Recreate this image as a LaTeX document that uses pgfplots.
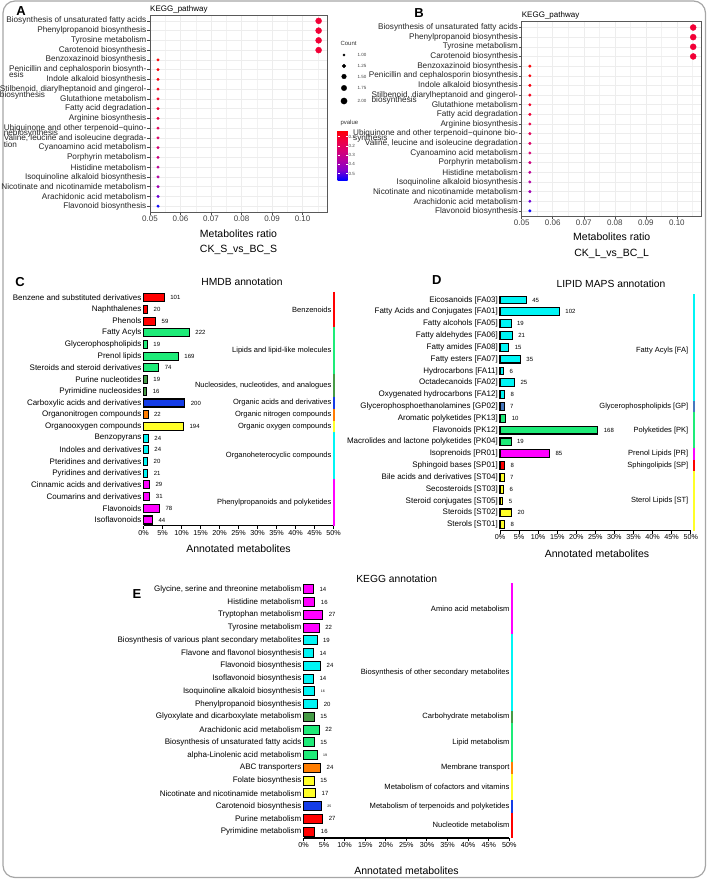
\documentclass[border=0pt]{standalone}
\usepackage{pgfplots}
\pgfplotsset{compat=1.18}
\usepackage{fontspec}
\setmainfont{Liberation Sans}

\definecolor{cred}{RGB}{255,0,0}
\definecolor{cgreen}{RGB}{30,235,120}
\definecolor{cdkgreen}{RGB}{70,155,70}
\definecolor{cblue}{RGB}{20,60,230}
\definecolor{corange}{RGB}{255,125,0}
\definecolor{cyellow}{RGB}{255,255,40}
\definecolor{ccyan}{RGB}{0,245,245}
\definecolor{cmag}{RGB}{255,0,255}
\definecolor{csteel}{RGB}{70,120,190}

\newcommand{\fs}[1]{\fontsize{#1}{#1}\selectfont}
\newcommand{\twoline}[3]{\rlap{\raisebox{#3}[0pt][0pt]{#2}}#1}

\pgfplotsset{
  colormap={rb}{rgb255=(255,0,0) rgb255=(240,0,65) rgb255=(215,0,115) rgb255=(180,0,160) rgb255=(130,0,205) rgb255=(0,0,255)},
  bubble/.style={scale only axis, anchor=north west,
    xmin=0.05, xmax=0.108, ymin=-0.6, ymax=19.6, y dir=reverse,
    xtick={0.05,0.06,0.07,0.08,0.09,0.10}, xticklabels={0.05,0.06,0.07,0.08,0.09,0.10},
    minor xtick={0.055,0.065,0.075,0.085,0.095,0.105},
    ytick={0,...,19},
    grid=both, major grid style={gray!14, line width=0.5pt}, minor grid style={gray!10, line width=0.35pt},
    axis line style={gray!70!black, line width=0.6pt},
    tick pos=left, tick align=outside, major tick length=2.5pt, minor tick length=0pt,
    tick style={gray!60!black, line width=0.5pt},
    xticklabel style={font=\fs{8}, text=black!75, inner sep=1pt},
    yticklabel style={font=\fs{8.2}, text=black!85, inner sep=1pt},
    colormap name=rb, point meta min=0.03, point meta max=0.57},
  bdot/.style={scatter, only marks, mark=*, point meta=explicit, scatter/use mapped color={draw=mapped color, fill=mapped color}},
  barax/.style={scale only axis, anchor=north west, xmin=0, xmax=50, ymin=-0.5, ymax=19.5,
    y dir=reverse, clip=false, axis lines*=left,
    y axis line style={draw=none}, x axis line style={line width=1.3pt, black},
    xtick={0,5,...,50}, xticklabels={0\%,5\%,10\%,15\%,20\%,25\%,30\%,35\%,40\%,45\%,50\%},
    ytick={0,...,19}, tick align=outside, major tick length=3pt,
    xtick style={line width=1pt, black}, ytick style={draw=none},
    xticklabel style={font=\fs{7.2}, inner sep=1pt},
    yticklabel style={font=\fs{8}, inner sep=1pt, xshift=2pt}},
  hbar/.style={xbar, bar shift=0pt, draw=black, line width=1.1pt, nodes near coords,
    point meta=explicit symbolic,
    nodes near coords style={font=\fs{6}, inner sep=0pt, xshift=5.5pt, anchor=west, text=black}},
  grpline/.style={no marks, line width=2.2pt, forget plot},
}

\begin{document}
\begin{tikzpicture}
\draw[gray!70, line width=1.2pt, rounded corners=12pt] (3pt,-1pt) rectangle (705.5pt,-877.5pt);

% ---------------- Panel A ----------------
\begin{axis}[bubble, at={(150pt,-15pt)}, width=177pt, height=197pt,
  yticklabels={Biosynthesis of unsaturated fatty acids, Phenylpropanoid biosynthesis, Tyrosine metabolism, Carotenoid biosynthesis, Benzoxazinoid biosynthesis,
   {\twoline{Penicillin and cephalosporin biosynth-}{esis}{-6pt}}, Indole alkaloid biosynthesis,
   {\twoline{Stilbenoid, diarylheptanoid and gingerol-}{biosynthesis}{-6pt}}, Glutathione metabolism, Fatty acid degradation, Arginine biosynthesis,
   {\twoline{Ubiquinone and other terpenoid−quino-}{nebiosynthesis}{-5.5pt}},
   {\twoline{Valine, leucine and isoleucine degrada-}{tion}{-7pt}},
   Cyanoamino acid metabolism, Porphyrin metabolism, Histidine metabolism, Isoquinoline alkaloid biosynthesis, Nicotinate and nicotinamide metabolism, Arachidonic acid metabolism, Flavonoid biosynthesis},
  colorbar, colorbar style={at={(parent axis.north east)}, anchor=north west, xshift=2pt, yshift=-115pt,
    width=10pt, height=50pt, y dir=reverse, ytick={0.1,0.2,0.3,0.4,0.5}, yticklabels={0.1,0.2,0.3,0.4,0.5},
    yticklabel style={font=\fs{4.5}, text=black!75, inner sep=1pt}, axis line style={draw=none},
    major tick length=2pt, tick style={white, line width=0.4pt}, grid=none}]
\addplot[bdot, mark size=3pt] table[x=r, y=y, meta=p, row sep=\\] {y r p\\ 0 0.10526 0.12\\ 1 0.10526 0.12\\ 2 0.10526 0.12\\ 3 0.10526 0.12\\};
\addplot[bdot, mark size=1.3pt] table[x=r, y=y, meta=p, row sep=\\] {y r p\\
 4 0.05263 0.035\\ 5 0.05263 0.045\\ 6 0.05263 0.055\\ 7 0.05263 0.075\\ 8 0.05263 0.095\\ 9 0.05263 0.12\\
 10 0.05263 0.15\\ 11 0.05263 0.19\\ 12 0.05263 0.22\\ 13 0.05263 0.25\\ 14 0.05263 0.28\\ 15 0.05263 0.33\\
 16 0.05263 0.36\\ 17 0.05263 0.40\\ 18 0.05263 0.48\\ 19 0.05263 0.56\\};
\end{axis}

% Count legend
\begin{axis}[at={(339pt,-50pt)}, anchor=north west, scale only axis, width=10pt, height=56pt, hide axis,
  xmin=-1, xmax=1, ymin=50, ymax=106, y dir=reverse, clip=false]
\addplot[only marks, mark=*, black, mark size=1.2pt] coordinates {(0,55)};
\addplot[only marks, mark=*, black, mark size=1.9pt] coordinates {(0,66)};
\addplot[only marks, mark=*, black, mark size=2.3pt] coordinates {(0,76.5)};
\addplot[only marks, mark=*, black, mark size=2.7pt] coordinates {(0,88)};
\addplot[only marks, mark=*, black, mark size=3.1pt] coordinates {(0,101)};
\end{axis}
\node[anchor=west, font=\fs{6}, text=black!80] at (337pt,-43pt) {Count};
\foreach \yy/\tt in {55/1.00, 66/1.25, 76.5/1.50, 88/1.75, 101/2.00}
  \node[anchor=west, font=\fs{4.5}, text=black!75] at (354pt,-\yy pt) {\tt};
\node[anchor=west, font=\fs{6}, text=black!80] at (337pt,-123pt) {pvalue};

\node[anchor=south west, font=\fs{8}, inner sep=0pt] at (150pt,-13pt) {KEGG\_pathway};
\node[font=\bfseries\fs{13}] at (21pt,-11.5pt) {A};
\node[font=\fs{10.5}] at (238.5pt,-234pt) {Metabolites ratio};
\node[font=\fs{10.5}] at (238.5pt,-250pt) {CK\_S\_vs\_BC\_S};

% ---------------- Panel B ----------------
\begin{axis}[bubble, at={(521.7pt,-21.7pt)}, width=180pt, height=195pt,
  yticklabels={Biosynthesis of unsaturated fatty acids, Phenylpropanoid biosynthesis, Tyrosine metabolism, Carotenoid biosynthesis, Benzoxazinoid biosynthesis,
   Penicillin and cephalosporin biosynthesis, Indole alkaloid biosynthesis,
   {\twoline{Stilbenoid, diarylheptanoid and gingerol-}{biosynthesis}{-5pt}}, Glutathione metabolism, Fatty acid degradation, Arginine biosynthesis,
   {\twoline{Ubiquinone and other terpenoid−quinone bio-}{synthesis}{-4.5pt}},
   {Valine, leucine and isoleucine degradation},
   Cyanoamino acid metabolism, Porphyrin metabolism, Histidine metabolism, Isoquinoline alkaloid biosynthesis, Nicotinate and nicotinamide metabolism, Arachidonic acid metabolism, Flavonoid biosynthesis}]
\addplot[bdot, mark size=3pt] table[x=r, y=y, meta=p, row sep=\\] {y r p\\ 0 0.10526 0.12\\ 1 0.10526 0.12\\ 2 0.10526 0.12\\ 3 0.10526 0.12\\};
\addplot[bdot, mark size=1.3pt] table[x=r, y=y, meta=p, row sep=\\] {y r p\\
 4 0.05263 0.035\\ 5 0.05263 0.045\\ 6 0.05263 0.055\\ 7 0.05263 0.075\\ 8 0.05263 0.095\\ 9 0.05263 0.12\\
 10 0.05263 0.15\\ 11 0.05263 0.19\\ 12 0.05263 0.22\\ 13 0.05263 0.25\\ 14 0.05263 0.28\\ 15 0.05263 0.33\\
 16 0.05263 0.36\\ 17 0.05263 0.40\\ 18 0.05263 0.48\\ 19 0.05263 0.56\\};
\end{axis}
\node[anchor=south west, font=\fs{8}, inner sep=0pt] at (521.7pt,-19.5pt) {KEGG\_pathway};
\node[font=\bfseries\fs{13}] at (419pt,-13.3pt) {B};
\node[font=\fs{10.5}] at (611.7pt,-237pt) {Metabolites ratio};
\node[font=\fs{10.5}] at (611.7pt,-254pt) {CK\_L\_vs\_BC\_L};

% ---------------- Panel C ----------------
\begin{axis}[barax, at={(143.5pt,-291.8pt)}, width=190pt, height=234pt,
  yticklabels={Benzene and substituted derivatives, Naphthalenes, Phenols, Fatty Acyls, Glycerophospholipids, Prenol lipids, Steroids and steroid derivatives, Purine nucleotides, Pyrimidine nucleosides, Carboxylic acids and derivatives, Organonitrogen compounds, Organooxygen compounds, Benzopyrans, Indoles and derivatives, Pteridines and derivatives, Pyridines and derivatives, Cinnamic acids and derivatives, Coumarins and derivatives, Flavonoids, Isoflavonoids}]
\addplot[hbar, bar width=8pt, fill=cred] table[x=p, y=y, meta=c, row sep=\\] {y p c\\ 0 5.49 101\\ 1 1.09 20\\ 2 3.21 59\\};
\addplot[hbar, bar width=8pt, fill=cgreen] table[x=p, y=y, meta=c, row sep=\\] {y p c\\ 3 12.07 222\\ 4 1.03 19\\ 5 9.18 169\\ 6 4.02 74\\};
\addplot[hbar, bar width=8pt, fill=cdkgreen] table[x=p, y=y, meta=c, row sep=\\] {y p c\\ 7 1.03 19\\ 8 0.87 16\\};
\addplot[hbar, bar width=8pt, fill=cblue] table[x=p, y=y, meta=c, row sep=\\] {y p c\\ 9 10.87 200\\};
\addplot[hbar, bar width=8pt, fill=corange] table[x=p, y=y, meta=c, row sep=\\] {y p c\\ 10 1.20 22\\};
\addplot[hbar, bar width=8pt, fill=cyellow] table[x=p, y=y, meta=c, row sep=\\] {y p c\\ 11 10.54 194\\};
\addplot[hbar, bar width=8pt, fill=ccyan] table[x=p, y=y, meta=c, row sep=\\] {y p c\\ 12 1.30 24\\ 13 1.30 24\\ 14 1.09 20\\ 15 1.14 21\\};
\addplot[hbar, bar width=8pt, fill=cmag] table[x=p, y=y, meta=c, row sep=\\] {y p c\\ 16 1.58 29\\ 17 1.68 31\\ 18 4.24 78\\ 19 2.39 44\\};
\addplot[grpline, cred] coordinates {(50.2,-0.5) (50.2,2.5)};
\addplot[grpline, cgreen] coordinates {(50.2,2.5) (50.2,6.5)};
\addplot[grpline, cdkgreen] coordinates {(50.2,6.5) (50.2,8.5)};
\addplot[grpline, cblue] coordinates {(50.2,8.5) (50.2,9.5)};
\addplot[grpline, corange] coordinates {(50.2,9.5) (50.2,10.5)};
\addplot[grpline, cyellow] coordinates {(50.2,10.5) (50.2,11.5)};
\addplot[grpline, ccyan] coordinates {(50.2,11.5) (50.2,15.5)};
\addplot[grpline, cmag] coordinates {(50.2,15.5) (50.2,19.5)};
\begin{scope}[every node/.style={anchor=east, font=\fs{7.5}, inner sep=0pt}]
\node at (axis cs:49.5,1) {Benzenoids};
\node at (axis cs:49.5,4.5) {Lipids and lipid-like molecules};
\node at (axis cs:49.5,7.5) {Nucleosides, nucleotides, and analogues};
\node at (axis cs:49.5,9) {Organic acids and derivatives};
\node at (axis cs:49.5,10) {Organic nitrogen compounds};
\node at (axis cs:49.5,11) {Organic oxygen compounds};
\node at (axis cs:49.5,13.5) {Organoheterocyclic compounds};
\node at (axis cs:49.5,17.5) {Phenylpropanoids and polyketides};
\end{scope}
\end{axis}
\node[font=\bfseries\fs{13}] at (20pt,-282pt) {C};
\node[font=\fs{10.3}] at (242pt,-282pt) {HMDB annotation};
\node[font=\fs{10.5}] at (238.5pt,-549pt) {Annotated metabolites};

% ---------------- Panel D ----------------
\begin{axis}[barax, at={(500pt,-294.1pt)}, width=190.7pt, height=236.5pt,
  yticklabels={{Eicosanoids [FA03]}, {Fatty Acids and Conjugates [FA01]}, {Fatty alcohols [FA05]}, {Fatty aldehydes [FA06]}, {Fatty amides [FA08]}, {Fatty esters [FA07]}, {Hydrocarbons [FA11]}, {Octadecanoids [FA02]}, {Oxygenated hydrocarbons [FA12]}, {Glycerophosphoethanolamines [GP02]}, {Aromatic polyketides [PK13]}, {Flavonoids [PK12]}, {Macrolides and lactone polyketides [PK04]}, {Isoprenoids [PR01]}, {Sphingoid bases [SP01]}, {Bile acids and derivatives [ST04]}, {Secosteroids [ST03]}, {Steroid conjugates [ST05]}, {Steroids [ST02]}, {Sterols [ST01]}}]
\addplot[hbar, bar width=7.8pt, fill=ccyan] table[x=p, y=y, meta=c, row sep=\\] {y p c\\ 0 6.87 45\\ 1 15.57 102\\ 2 2.90 19\\ 3 3.21 21\\ 4 2.29 15\\ 5 5.34 35\\ 6 0.92 6\\ 7 3.82 25\\ 8 1.22 8\\};
\addplot[hbar, bar width=7.8pt, fill=csteel] table[x=p, y=y, meta=c, row sep=\\] {y p c\\ 9 1.07 7\\};
\addplot[hbar, bar width=7.8pt, fill=cgreen] table[x=p, y=y, meta=c, row sep=\\] {y p c\\ 10 1.53 10\\ 11 25.65 168\\ 12 2.90 19\\};
\addplot[hbar, bar width=7.8pt, fill=cmag] table[x=p, y=y, meta=c, row sep=\\] {y p c\\ 13 12.98 85\\};
\addplot[hbar, bar width=7.8pt, fill=cred] table[x=p, y=y, meta=c, row sep=\\] {y p c\\ 14 1.22 8\\};
\addplot[hbar, bar width=7.8pt, fill=cyellow] table[x=p, y=y, meta=c, row sep=\\] {y p c\\ 15 1.07 7\\ 16 0.92 6\\ 17 0.76 5\\ 18 3.05 20\\ 19 1.22 8\\};
\addplot[grpline, ccyan] coordinates {(50.95,-0.5) (50.95,8.5)};
\addplot[grpline, csteel] coordinates {(50.95,8.5) (50.95,9.5)};
\addplot[grpline, cgreen] coordinates {(50.95,9.5) (50.95,12.5)};
\addplot[grpline, cmag] coordinates {(50.95,12.5) (50.95,13.5)};
\addplot[grpline, cred] coordinates {(50.95,13.5) (50.95,14.5)};
\addplot[grpline, cyellow] coordinates {(50.95,14.5) (50.95,19.5)};
\begin{scope}[every node/.style={anchor=east, font=\fs{7.5}, inner sep=0pt}]
\node at (axis cs:49.4,4.3) {Fatty Acyls [FA]};
\node at (axis cs:49.4,9) {Glycerophospholipids [GP]};
\node at (axis cs:49.4,11) {Polyketides [PK]};
\node at (axis cs:49.4,13) {Prenol Lipids [PR]};
\node at (axis cs:49.4,14) {Sphingolipids [SP]};
\node at (axis cs:49.4,17) {Sterol Lipids [ST]};
\end{scope}
\end{axis}
\node[font=\bfseries\fs{13}] at (436.7pt,-280pt) {D};
\node[font=\fs{10.3}] at (611pt,-284pt) {LIPID MAPS annotation};
\node[font=\fs{10.5}] at (597pt,-553.3pt) {Annotated metabolites};

% ---------------- Panel E ----------------
\begin{axis}[barax, at={(303.5pt,-583pt)}, width=205.8pt, height=255pt,
  yticklabels={{Glycine, serine and threonine metabolism}, Histidine metabolism, Tryptophan metabolism, Tyrosine metabolism, Biosynthesis of various plant secondary metabolites, Flavone and flavonol biosynthesis, Flavonoid biosynthesis, Isoflavonoid biosynthesis, Isoquinoline alkaloid biosynthesis, Phenylpropanoid biosynthesis, Glyoxylate and dicarboxylate metabolism, Arachidonic acid metabolism, Biosynthesis of unsaturated fatty acids, alpha-Linolenic acid metabolism, ABC transporters, Folate biosynthesis, Nicotinate and nicotinamide metabolism, Carotenoid biosynthesis, Purine metabolism, Pyrimidine metabolism}]
\addplot[hbar, bar width=9pt, fill=cmag] table[x=p, y=y, meta=c, row sep=\\] {y p c\\ 0 2.43 14\\ 1 2.78 16\\ 2 4.70 27\\ 3 3.83 22\\};
\addplot[hbar, bar width=9pt, fill=ccyan] table[x=p, y=y, meta=c, row sep=\\] {y p c\\ 4 3.30 19\\ 5 2.43 14\\ 6 4.17 24\\ 7 2.43 14\\ 9 3.48 20\\};
\addplot[hbar, bar width=9pt, fill=ccyan, nodes near coords style={font=\fs{3.5}}] table[x=p, y=y, meta=c, row sep=\\] {y p c\\ 8 2.78 16\\};
\addplot[hbar, bar width=9pt, fill=cdkgreen] table[x=p, y=y, meta=c, row sep=\\] {y p c\\ 10 2.61 15\\};
\addplot[hbar, bar width=9pt, fill=cgreen] table[x=p, y=y, meta=c, row sep=\\] {y p c\\ 11 3.83 22\\ 12 2.61 15\\};
\addplot[hbar, bar width=9pt, fill=cgreen, nodes near coords style={font=\fs{3.5}}] table[x=p, y=y, meta=c, row sep=\\] {y p c\\ 13 3.30 19\\};
\addplot[hbar, bar width=9pt, fill=corange] table[x=p, y=y, meta=c, row sep=\\] {y p c\\ 14 4.17 24\\};
\addplot[hbar, bar width=9pt, fill=cyellow] table[x=p, y=y, meta=c, row sep=\\] {y p c\\ 15 2.61 15\\ 16 2.96 17\\};
\addplot[hbar, bar width=9pt, fill=cblue, nodes near coords style={font=\fs{3.5}}] table[x=p, y=y, meta=c, row sep=\\] {y p c\\ 17 4.35 25\\};
\addplot[hbar, bar width=9pt, fill=cred] table[x=p, y=y, meta=c, row sep=\\] {y p c\\ 18 4.70 27\\ 19 2.78 16\\};
\addplot[grpline, cmag] coordinates {(50.75,-0.5) (50.75,3.5)};
\addplot[grpline, ccyan] coordinates {(50.75,3.5) (50.75,9.5)};
\addplot[grpline, cdkgreen] coordinates {(50.75,9.5) (50.75,10.5)};
\addplot[grpline, cgreen] coordinates {(50.75,10.5) (50.75,13.5)};
\addplot[grpline, corange] coordinates {(50.75,13.5) (50.75,14.5)};
\addplot[grpline, cyellow] coordinates {(50.75,14.5) (50.75,16.5)};
\addplot[grpline, cblue] coordinates {(50.75,16.5) (50.75,17.5)};
\addplot[grpline, cred] coordinates {(50.75,17.5) (50.75,19.5)};
\begin{scope}[every node/.style={anchor=east, font=\fs{7.6}, inner sep=0pt}]
\node at (axis cs:50.1,1.5) {Amino acid metabolism};
\node at (axis cs:50.1,6.5) {Biosynthesis of other secondary metabolites};
\node at (axis cs:50.1,10) {Carbohydrate metabolism};
\node at (axis cs:50.1,12) {Lipid metabolism};
\node at (axis cs:50.1,14) {Membrane transport};
\node at (axis cs:50.1,15.5) {Metabolism of cofactors and vitamins};
\node at (axis cs:50.1,17) {Metabolism of terpenoids and polyketides};
\node at (axis cs:50.1,18.5) {Nucleotide metabolism};
\end{scope}
\end{axis}
\node[font=\bfseries\fs{13}] at (137pt,-594pt) {E};
\node[font=\fs{10.3}] at (396.7pt,-579.3pt) {KEGG annotation};
\node[font=\fs{10.5}] at (406.5pt,-870.7pt) {Annotated metabolites};

\pgfresetboundingbox
\useasboundingbox (0pt,0pt) rectangle (708pt,-880pt);
\end{tikzpicture}
\end{document}
